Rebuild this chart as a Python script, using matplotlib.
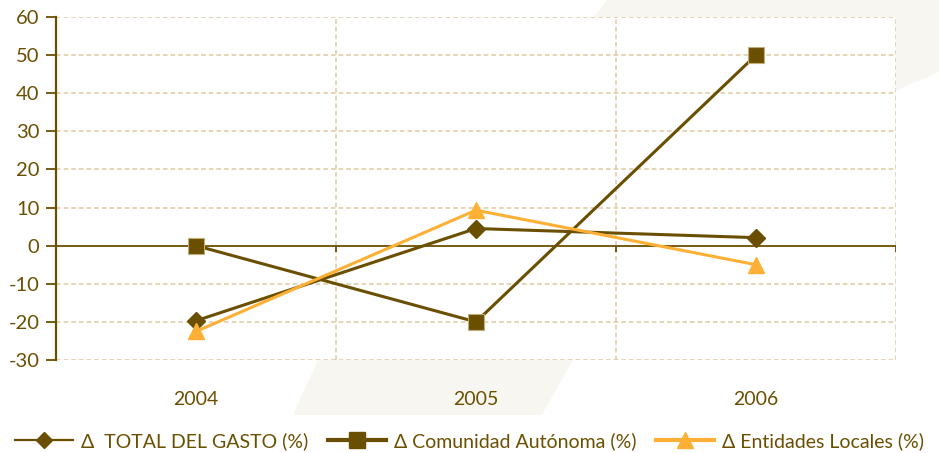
import matplotlib.pyplot as plt
from matplotlib.patches import Polygon
from matplotlib.lines import Line2D

plt.rcParams['font.family'] = ['Lato', 'DejaVu Sans']
plt.rcParams['axes.unicode_minus'] = False

years = ['2004', '2005', '2006']
total_gasto = [-19.7, 4.5, 2.1]
comunidad = [0.0, -20.0, 50.0]
entidades = [-22.5, 9.3, -5.0]
labels = ['\u0394  TOTAL DEL GASTO (%)', '\u0394 Comunidad Autónoma (%)',
          '\u0394 Entidades Locales (%)']

brown = '#6b4f00'
orange = '#fdb035'
grid_c = '#dccaa2'
text_c = '#6b4f00'

W, H = 939, 453
fig = plt.figure(figsize=(W / 100, H / 100), dpi=100)

# faint diagonal band in the background (pixel coords -> figure fraction)
band_px = [(293, 415), (542, 415), (573, 360), (897, 90), (939, 72),
           (939, 0), (607, 0), (318, 360)]
band = Polygon([(x / W, 1 - y / H) for x, y in band_px], closed=True,
               transform=fig.transFigure, facecolor='#f8f6f0', edgecolor='none',
               zorder=-5)
fig.patches.append(band)

ax = fig.add_axes([56 / W, 1 - 360 / H, 840 / W, 343 / H])
ax.set_zorder(1)
ax.set_facecolor('white')

x = range(len(years))
ax.plot(x, total_gasto, color=brown, lw=2.2, marker='D', ms=9,
        mfc=brown, mec=brown, zorder=4)
ax.plot(x, comunidad, color=brown, lw=2.2, marker='s', ms=11,
        mfc=brown, mec='#bfae7a', mew=0.8, zorder=4)
ax.plot(x, entidades, color=orange, lw=2.2, marker='^', ms=12,
        mfc=orange, mec=orange, zorder=4)

ax.set_xlim(-0.5, 2.5)
ax.set_ylim(-30, 60)
ax.set_yticks(range(-30, 61, 10))

# dashed grid
for yv in range(-30, 61, 10):
    if yv != 0:
        ax.axhline(yv, color=grid_c, lw=1.1, ls=(0, (3, 2)), zorder=1)
for xv in [0.5, 1.5, 2.5]:
    ax.axvline(xv, color=grid_c, lw=1.1, ls=(0, (3, 2)), zorder=1)

# category axis crossing at zero with small ticks
ax.axhline(0, color=brown, lw=1.3, zorder=3)
ax.vlines([0.5, 1.5, 2.5], -1.6, 0, color=brown, lw=1.3, zorder=3)

for s in ['top', 'right', 'bottom']:
    ax.spines[s].set_visible(False)
ax.spines['left'].set_color(brown)
ax.spines['left'].set_linewidth(1.6)
ax.tick_params(axis='y', colors=brown, length=7, width=1.3, labelsize=14.5,
               labelcolor=text_c, pad=5)

ax.set_xticks(list(x))
ax.set_xticklabels(years)
ax.tick_params(axis='x', length=0, labelsize=14, labelcolor=text_c, pad=22)

handles = [
    Line2D([], [], color=brown, lw=1.6, marker='D', ms=8, mfc=brown, mec=brown),
    Line2D([], [], color=brown, lw=3, marker='s', ms=11, mfc=brown, mec=brown),
    Line2D([], [], color=orange, lw=3, marker='^', ms=11, mfc=orange, mec=orange),
]
leg = fig.legend(handles, labels, loc='lower center', ncol=3,
                 bbox_to_anchor=(0.5, -0.028), frameon=False, fontsize=14,
                 handlelength=3.0, handletextpad=0.4, columnspacing=1.0,
                 borderpad=0.3)
for t in leg.get_texts():
    t.set_color(text_c)

fig.savefig('out.png', dpi=100)
